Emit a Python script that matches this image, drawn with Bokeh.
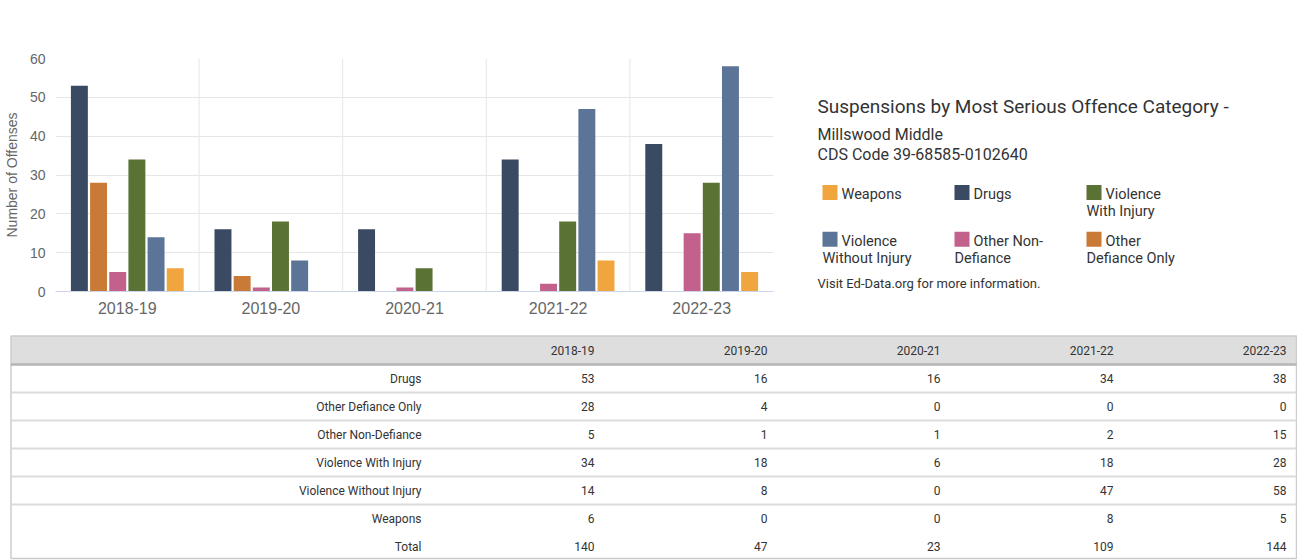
from bokeh.plotting import figure
from bokeh.models import Range1d, FactorRange, Span, ColumnDataSource
from bokeh.transform import dodge
from bokeh.layouts import column, row
from bokeh.core.properties import value
from bokeh.embed import file_html
from bokeh.resources import INLINE

# ---------------- data ----------------
years = ["2018-19", "2019-20", "2020-21", "2021-22", "2022-23"]
categories = ["Drugs", "Other Defiance Only", "Other Non-Defiance",
              "Violence With Injury", "Violence Without Injury", "Weapons"]
drugs = [53, 16, 16, 34, 38]
other_defiance_only = [28, 4, 0, 0, 0]
other_non_defiance = [5, 1, 1, 2, 15]
violence_with_injury = [34, 18, 6, 18, 28]
violence_without_injury = [14, 8, 0, 47, 58]
weapons = [6, 0, 0, 8, 5]
series = [drugs, other_defiance_only, other_non_defiance,
          violence_with_injury, violence_without_injury, weapons]
colors = ["#3a4a62", "#c97a37", "#c2618b", "#5a7233", "#5b7498", "#f0a53f"]
y_ticks = [0, 10, 20, 30, 40, 50, 60]
y_label = "Number of Offenses"

title_text = "Suspensions by Most Serious Offence Category -"
school_text = "Millswood Middle"
cds_text = "CDS Code 39-68585-0102640"
footer_text = "Visit Ed-Data.org for more information."
legend_order = ["Weapons", "Drugs", "Violence With Injury",
                "Violence Without Injury", "Other Non-Defiance", "Other Defiance Only"]
legend_line1 = ["Weapons", "Drugs", "Violence", "Violence", "Other Non-", "Other"]
legend_line2 = ["", "", "With Injury", "Without Injury", "Defiance", "Defiance Only"]
total_label = "Total"

AX_FONT = "Liberation Sans"
INFO_FONT = "Roboto"
TABLE_FONT = "Roboto"

STRIP = 3
TOP, BOTTOM_Y, CH_H = 58 - STRIP, 291 - STRIP, 330 - STRIP

# ---------------- top strip ----------------
strip = figure(width=1297, height=STRIP, x_range=Range1d(0, 1), y_range=Range1d(0, 1),
               output_backend="svg", toolbar_location=None, min_border=0,
               x_axis_type=None, y_axis_type=None,
               background_fill_color="#ececec", border_fill_color="#ececec")
strip.outline_line_color = None
strip.grid.visible = False
strip.quad(left=[0], right=[1], bottom=[0], top=[1], fill_color="#ececec", line_color=None)

# ---------------- bar chart ----------------
p = figure(x_range=FactorRange(factors=years), y_range=Range1d(0, 60),
           width=790, height=CH_H, output_backend="svg", toolbar_location=None,
           min_border_left=55, min_border_right=17, min_border_top=TOP,
           min_border_bottom=CH_H - BOTTOM_Y)
src = ColumnDataSource(dict(year=years, **{f"s{i}": s for i, s in enumerate(series)}))
step = 0.1335
for i, (cat, col) in enumerate(zip(categories, colors)):
    p.vbar(x=dodge("year", (i - 2.5) * step, range=p.x_range), top=f"s{i}",
           width=0.118, source=src, fill_color=col, line_color=None)

for k in range(1, len(years)):
    p.add_layout(Span(location=k, dimension="height", line_color="#e6e6e6",
                      line_width=1, level="underlay"))

p.outline_line_color = None
p.xgrid.grid_line_color = None
p.ygrid.grid_line_color = "#e6e6e6"
p.ygrid.level = "underlay"
p.yaxis.ticker = y_ticks
p.yaxis.axis_label = y_label
p.yaxis.axis_label_text_font = AX_FONT
p.yaxis.axis_label_text_font_size = "14px"
p.yaxis.axis_label_text_font_style = "normal"
p.yaxis.axis_label_text_color = "#666666"
p.yaxis.axis_label_standoff = 7
p.yaxis.axis_line_color = None
p.yaxis.major_tick_line_color = None
p.yaxis.minor_tick_line_color = None
p.yaxis.major_tick_out = 0
p.yaxis.major_tick_in = 0
p.yaxis.minor_tick_out = 0
p.yaxis.major_label_text_font = AX_FONT
p.yaxis.major_label_text_font_size = "14px"
p.yaxis.major_label_text_color = "#666666"
p.yaxis.major_label_standoff = 10
p.xaxis.axis_line_color = "#ccd6eb"
p.xaxis.major_tick_line_color = None
p.xaxis.minor_tick_line_color = None
p.xaxis.major_tick_out = 0
p.xaxis.major_tick_in = 0
p.xaxis.major_label_text_font = AX_FONT
p.xaxis.major_label_text_font_size = "16px"
p.xaxis.major_label_text_color = "#666666"
p.xaxis.major_label_standoff = 10

# ---------------- info / legend panel (data units = page pixels) ----------------
info = figure(width=507, height=CH_H, x_range=Range1d(790, 1297),
              y_range=Range1d(BOTTOM_Y + STRIP, TOP + STRIP),
              output_backend="svg", toolbar_location=None,
              min_border_left=0, min_border_right=0, min_border_top=TOP,
              min_border_bottom=CH_H - BOTTOM_Y,
              x_axis_type=None, y_axis_type=None)
info.outline_line_color = None
info.grid.visible = False

info.text(x=[817], y=[106], text=[title_text], text_font=value(INFO_FONT),
          text_font_size="19px", text_color="#333333", text_baseline="middle")
info.text(x=[817, 817], y=[134, 154], text=[school_text, cds_text], text_font=value(INFO_FONT),
          text_font_size="16px", text_color="#333333", text_baseline="middle")
info.text(x=[817], y=[283], text=[footer_text], text_font=value(INFO_FONT),
          text_font_size="13px", text_color="#333333", text_baseline="middle")

col_x = [822, 954, 1086]
row_y = [192, 238.7]
sq_x, sq_y, sq_c, t1x, t1y, t2x, t2y = [], [], [], [], [], [], []
for j, name in enumerate(legend_order):
    cx = col_x[j % 3]
    cy = row_y[j // 3]
    sq_x.append(cx + 7.5)
    sq_y.append(cy)
    sq_c.append(colors[categories.index(name)])
    t1x.append(cx + 19)
    t1y.append(cy + 2)
    t2x.append(cx)
    t2y.append(cy + 19)
info.rect(x=sq_x, y=sq_y, width=15, height=15, fill_color=sq_c, line_color=None)
info.text(x=t1x, y=t1y, text=legend_line1, text_font=value(INFO_FONT),
          text_font_size="14.5px", text_color="#333333", text_baseline="middle")
info.text(x=t2x, y=t2y, text=legend_line2, text_font=value(INFO_FONT),
          text_font_size="14.5px", text_color="#333333", text_baseline="middle")

# ---------------- table ----------------
T0 = 330
T_H = 560 - T0
x0p, stepx = 421, 173          # pixel of label column right edge, column step
y0p, stepy = 350 - T0, 28      # pixel (within table fig) of header centre, row step
t = figure(width=1297, height=T_H,
           x_range=Range1d(-x0p / stepx, (1297 - x0p) / stepx),
           y_range=Range1d((T_H - y0p) / stepy, -y0p / stepy),
           output_backend="svg", toolbar_location=None, min_border=0,
           x_axis_type=None, y_axis_type=None)
t.outline_line_color = None
t.grid.visible = False
x_left = (10.5 - x0p) / stepx
x_right = (1296 - x0p) / stepx
y_top = (335.5 - T0 - y0p) / stepy
y_bot = (558 - T0 - y0p) / stepy
n_rows = len(categories) + 1
t.quad(left=[x_left], right=[x_right], top=[y_top], bottom=[0.5],
       fill_color="#dedede", line_color=None)
t.quad(left=[x_left], right=[x_right], top=[y_top], bottom=[y_bot],
       fill_color=None, line_color="#cccccc", line_width=1.5)
t.segment(x0=[x_left], x1=[x_right], y0=[0.5], y1=[0.5], line_color="#b5b5b5", line_width=2.5)
sep_y = [i + 0.5 for i in range(1, len(categories))]
t.segment(x0=[x_left] * len(sep_y), x1=[x_right] * len(sep_y), y0=sep_y, y1=sep_y,
          line_color="#dcdcdc", line_width=2)

# header
t.text(x=list(range(1, len(years) + 1)), y=[0] * len(years), text=years,
       text_font=value(TABLE_FONT), text_font_size="12px", text_color="#333333",
       text_align="right", text_baseline="middle")
# row labels
row_labels = categories + [total_label]
t.text(x=[0] * n_rows, y=list(range(1, n_rows + 1)), text=row_labels,
       text_font=value(TABLE_FONT), text_font_size="12px", text_color="#333333",
       text_align="right", text_baseline="middle")
# values
totals = [sum(s[k] for s in series) for k in range(len(years))]
vx, vy, vt = [], [], []
for r, vals in enumerate(series + [totals]):
    for k, v in enumerate(vals):
        vx.append(k + 1)
        vy.append(r + 1)
        vt.append(str(v))
t.text(x=vx, y=vy, text=vt, text_font=value(TABLE_FONT), text_font_size="12px",
       text_color="#333333", text_align="right", text_baseline="middle")

layout = column(strip, row(p, info), t)
open("out.html", "w").write(file_html(layout, INLINE))
